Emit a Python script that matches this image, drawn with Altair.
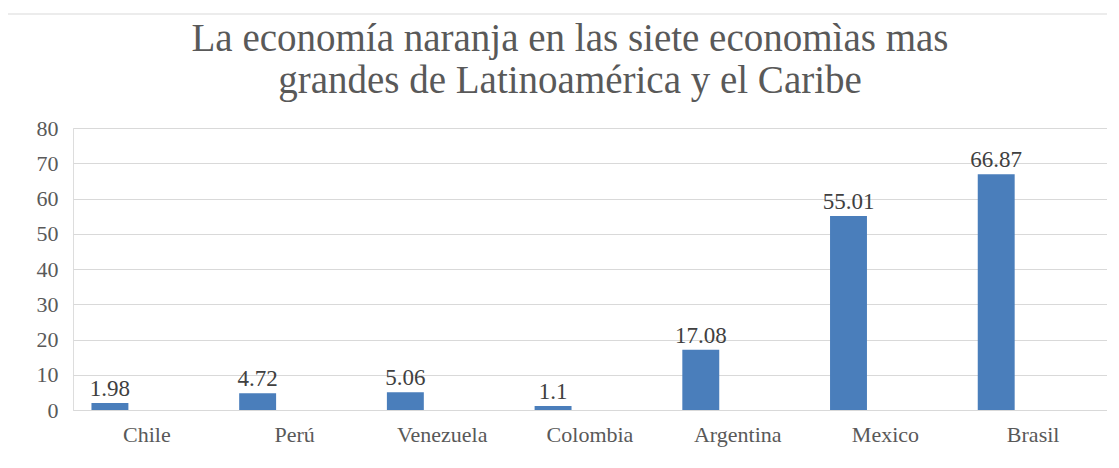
import altair as alt
import pandas as pd

paises = ["Chile", "Perú", "Venezuela", "Colombia", "Argentina", "Mexico", "Brasil"]
valores = [1.98, 4.72, 5.06, 1.1, 17.08, 55.01, 66.87]
etiquetas = ["1.98", "4.72", "5.06", "1.1", "17.08", "55.01", "66.87"]
series = ["S1", "S2", "S3"]
ticks_y = [0, 10, 20, 30, 40, 50, 60, 70, 80]

df = pd.DataFrame({"pais": paises, "valor": valores, "etiqueta": etiquetas, "serie": ["S1"] * len(paises)})

FONT = "Liberation Serif"
GRAY = "#595959"

x = alt.X("pais:N", sort=paises, title=None,
          scale=alt.Scale(paddingInner=0.25, paddingOuter=0.125),
          axis=alt.Axis(labelAngle=0, labelFont=FONT, labelFontSize=22, labelColor=GRAY,
                        ticks=False, domain=True, domainColor="#d9d9d9", domainWidth=1.2,
                        labelPadding=14, grid=False))
xo = alt.XOffset("serie:N", scale=alt.Scale(domain=series, paddingInner=0, paddingOuter=0))
y = alt.Y("valor:Q", title=None,
          scale=alt.Scale(domain=[0, 80], nice=False),
          axis=alt.Axis(values=ticks_y, labelFont=FONT, labelFontSize=22, labelOverlap=False,
                        labelColor=GRAY, ticks=False, domain=False, gridColor="#d9d9d9",
                        gridWidth=1.2, labelPadding=15))

base = alt.Chart(df)

border = alt.Chart(pd.DataFrame({"a": [0]})).mark_rect(
    fill=None, stroke="#d9d9d9", strokeWidth=1.2
).encode(x=alt.value(-67), x2=alt.value(1045), y=alt.value(-114), y2=alt.value(338))

bars = base.mark_bar(color="#4A7EBB").encode(x=x, xOffset=xo, y=y)

text = base.mark_text(font=FONT, fontSize=23, color="#404040", baseline="bottom", dy=-2).encode(
    x=x, xOffset=xo, y=y, text="etiqueta:N"
)

chart = alt.layer(border, bars, text).properties(
    width=1034, height=282,
    autosize=alt.AutoSizeParams(type="none"),
    padding={"left": 65, "top": 120, "right": 0, "bottom": 50},
    title=alt.TitleParams(
        ["La economía naranja en las siete economìas mas", "grandes de Latinoamérica y el Caribe"],
        font=FONT, fontSize=39, fontWeight="normal", color=GRAY, anchor="middle",
        dx=-20, offset=-88, lineHeight=42,
    ),
).configure_view(strokeWidth=0).configure(background="white")

chart.save("out.html", embed_options={"renderer": "svg", "actions": False})
